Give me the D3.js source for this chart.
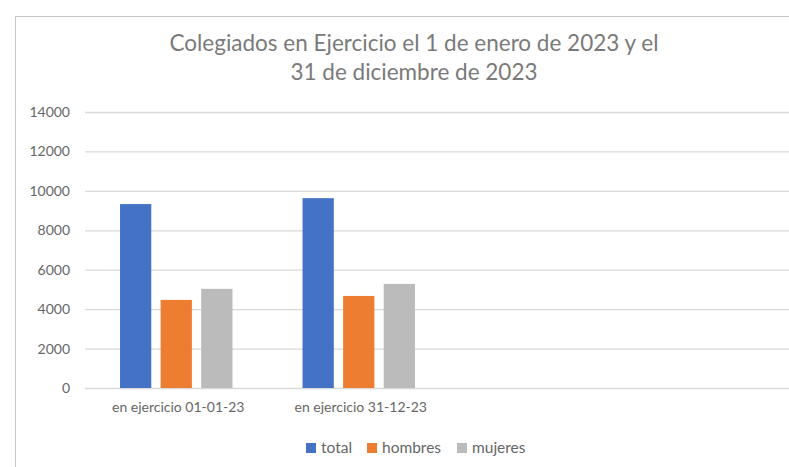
<!DOCTYPE html>
<html>
<head>
<meta charset="utf-8">
<script src="https://cdn.jsdelivr.net/npm/d3@7"></script>
<style>
  body { margin: 0; background: #fff; }
  svg { display: block; font-family: Lato, "Open Sans", sans-serif; }
</style>
</head>
<body>
<div id="chart"></div>
<script>
const categories = ['en ejercicio 01-01-23', 'en ejercicio 31-12-23'];
const seriesNames = ['total', 'hombres', 'mujeres'];
const total = [9330, 9630];
const hombres = [4470, 4670];
const mujeres = [5030, 5280];
const yTicks = [0, 2000, 4000, 6000, 8000, 10000, 12000, 14000];
const titleLines = ['Colegiados en Ejercicio el 1 de enero de 2023 y el', '31 de diciembre de 2023'];

const colors = {total: '#4472C4', hombres: '#ED7D31', mujeres: '#BBBBBB'};
const values = {total, hombres, mujeres};

const width = 789;
const height = 467;
const margin = {top: 112, bottom: 79, left: 85, right: -26};

const svg = d3.select('#chart')
    .append('svg')
        .attr('width', width)
        .attr('height', height);

// chart frame (cut off on the right and bottom in the original)
svg.append('rect')
    .attr('x', 15.5)
    .attr('y', 16.5)
    .attr('width', 800)
    .attr('height', 480)
    .attr('fill', 'none')
    .attr('stroke', '#c6c6c6');

svg.append('text')
    .attr('x', 414)
    .attr('y', 51)
    .attr('text-anchor', 'middle')
    .attr('fill', '#7a7a7a')
    .attr('font-size', '22.5px')
    .selectAll('tspan')
    .data(titleLines)
    .join('tspan')
        .attr('x', 414)
        .attr('dy', (d, i) => i === 0 ? 0 : 29)
        .text(d => d);

const y = d3.scaleLinear()
    .domain([0, 14000])
    .range([height - margin.bottom, margin.top]);

// plot would hold 4 category slots; only the first two are filled
const x0 = d3.scaleBand()
    .domain(categories)
    .range([margin.left, 450])
    .paddingInner(0.384)
    .paddingOuter(0.192);

const x1 = d3.scaleBand()
    .domain(seriesNames)
    .range([0, x0.bandwidth()])
    .paddingInner(0.23);

function yAxis(g) {
    g.attr('transform', `translate(${margin.left}, 0)`)
        .call(d3.axisLeft(y).tickValues(yTicks).tickSize(-(width - margin.left - margin.right)).tickPadding(15).tickFormat(d3.format('d')))
        .attr('font-size', '14px')
        .attr('font-family', 'Lato, sans-serif');
    g.select('.domain').remove();
    g.selectAll('.tick line').attr('stroke', '#d9d9d9').attr('stroke-width', 1.3);
    g.selectAll('.tick text').attr('fill', '#666666');
}
svg.append('g').call(yAxis);

svg.append('g')
    .selectAll('g')
    .data(categories)
    .join('g')
        .attr('transform', d => `translate(${x0(d)}, 0)`)
    .selectAll('rect')
    .data((d, i) => seriesNames.map(s => ({key: s, value: values[s][i]})))
    .join('rect')
        .attr('x', d => x1(d.key))
        .attr('y', d => y(d.value))
        .attr('width', x1.bandwidth())
        .attr('height', d => y(0) - y(d.value))
        .attr('fill', d => colors[d.key]);

function xAxis(g) {
    g.attr('transform', `translate(0, ${height - margin.bottom})`)
        .call(d3.axisBottom(x0).tickSize(0).tickPadding(14))
        .attr('font-size', '14px')
        .attr('font-family', 'Lato, sans-serif');
    g.select('.domain').remove();
    g.selectAll('.tick text').attr('fill', '#666666').attr('dx', 2);
}
svg.append('g').call(xAxis);

// legend
const legendX = [306, 367, 457];
const legend = svg.append('g')
    .selectAll('g')
    .data(seriesNames)
    .join('g')
        .attr('transform', (d, i) => `translate(${legendX[i]}, 443)`);
legend.append('rect')
    .attr('width', 10)
    .attr('height', 10)
    .attr('fill', d => colors[d]);
legend.append('text')
    .attr('x', 15)
    .attr('y', 10)
    .attr('font-size', '15.5px')
    .attr('fill', '#666666')
    .text(d => d);
</script>
</body>
</html>
